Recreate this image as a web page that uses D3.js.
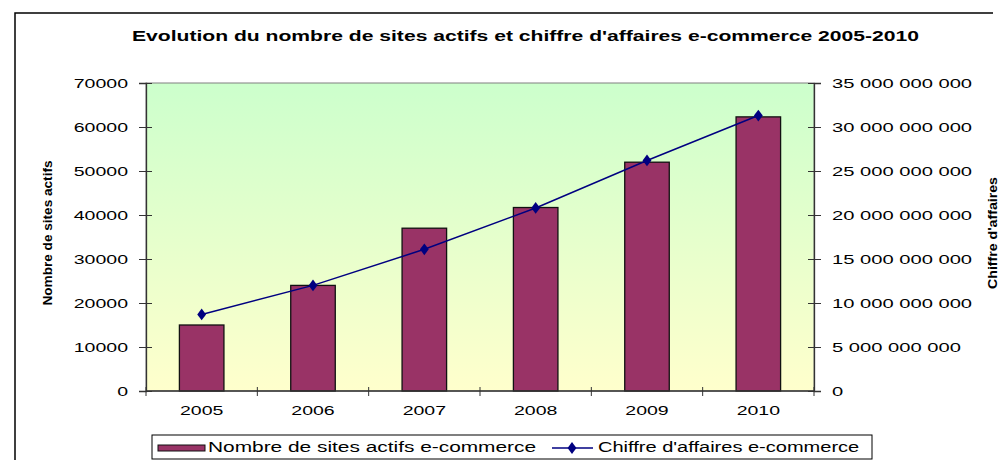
<!DOCTYPE html>
<html>
<head>
<meta charset="utf-8">
<script src="https://cdn.jsdelivr.net/npm/d3@7"></script>
<style>
  body { margin: 0; background: #fff; }
  text { font-family: "Liberation Sans", Arial, sans-serif; }
</style>
</head>
<body>
<div id="chart"></div>
<script>
var years = ['2005', '2006', '2007', '2008', '2009', '2010'];
var sites = [15000, 24000, 37000, 41700, 52000, 62300];
var chiffre = [8700000000, 12000000000, 16100000000, 20800000000, 26200000000, 31300000000];
var sitesTicks = [0, 10000, 20000, 30000, 40000, 50000, 60000, 70000];
var chiffreTicks = [0, 5e9, 10e9, 15e9, 20e9, 25e9, 30e9, 35e9];

var svgWidth = 1008;
var svgHeight = 460;

var plotLeft = 146, plotRight = 814, plotTop = 83, plotBottom = 391;

var svg = d3.select('#chart').append('svg')
    .attr('width', svgWidth)
    .attr('height', svgHeight);

// stretch text horizontally, like the original picture
function stretch(sel, sx) {
    sel.each(function() {
        var w = this.getComputedTextLength();
        d3.select(this).attr('textLength', w * sx).attr('lengthAdjust', 'spacingAndGlyphs');
    });
}

// outer frame (top and left edges only are visible)
svg.append('path')
    .attr('d', 'M15,460 L15,13 L993,13')
    .attr('fill', 'none')
    .attr('stroke', '#000')
    .attr('stroke-width', 1.5);

var grad = svg.append('defs').append('linearGradient')
    .attr('id', 'bg')
    .attr('x1', 0).attr('y1', 0).attr('x2', 0).attr('y2', 1);
grad.append('stop').attr('offset', '0%').attr('stop-color', '#ccffcc');
grad.append('stop').attr('offset', '100%').attr('stop-color', '#ffffcc');

svg.append('rect')
    .attr('x', plotLeft).attr('y', plotTop)
    .attr('width', plotRight - plotLeft).attr('height', plotBottom - plotTop)
    .attr('fill', 'url(#bg)')
    .attr('stroke', '#808080')
    .attr('stroke-width', 1);

var x = d3.scaleBand()
    .domain(years)
    .range([plotLeft, plotRight])
    .paddingInner(0.6)
    .paddingOuter(0.3);

var step = x.step();

var yLeft = d3.scaleLinear().domain([0, 70000]).range([plotBottom, plotTop]);
var yRight = d3.scaleLinear().domain([0, 35e9]).range([plotBottom, plotTop]);

// bars
svg.selectAll('.bar')
    .data(sites)
    .enter()
    .append('rect')
    .attr('class', 'bar')
    .attr('x', (d, i) => x(years[i]))
    .attr('y', d => yLeft(d))
    .attr('width', x.bandwidth())
    .attr('height', d => plotBottom - yLeft(d))
    .attr('fill', '#993366')
    .attr('stroke', '#111')
    .attr('stroke-width', 1.3);

// line
var line = d3.line()
    .x((d, i) => x(years[i]) + x.bandwidth() / 2)
    .y(d => yRight(d));

svg.append('path')
    .datum(chiffre)
    .attr('d', line)
    .attr('fill', 'none')
    .attr('stroke', '#000080')
    .attr('stroke-width', 1.5);

var diamond = d3.symbol().type(d3.symbolDiamond).size(40);

svg.selectAll('.pt')
    .data(chiffre)
    .enter()
    .append('path')
    .attr('class', 'pt')
    .attr('d', diamond)
    .attr('transform', (d, i) => `translate(${x(years[i]) + x.bandwidth() / 2}, ${yRight(d)}) scale(1.3, 1)`)
    .attr('fill', '#000080');

// left axis
var axLeft = svg.append('g')
    .attr('transform', `translate(${plotLeft}, 0)`)
    .call(d3.axisLeft(yLeft).tickValues(sitesTicks).tickSize(7).tickPadding(11).tickFormat(d3.format('d')));
axLeft.select('.domain').attr('stroke', '#333').attr('stroke-width', 1.3);
axLeft.selectAll('.tick line').attr('x2', -7).attr('x1', 6).attr('stroke', '#333');
axLeft.selectAll('text').attr('font-size', 13).attr('fill', '#000')
    .attr('font-family', '"Liberation Sans", Arial, sans-serif')
    .call(stretch, 1.5);

// right axis
var axRight = svg.append('g')
    .attr('transform', `translate(${plotRight}, 0)`)
    .call(d3.axisRight(yRight).tickValues(chiffreTicks).tickSize(7).tickPadding(11)
        .tickFormat(d => d3.format(',')(d).replace(/,/g, ' ')));
axRight.select('.domain').attr('stroke', '#333').attr('stroke-width', 1.3);
axRight.selectAll('.tick line').attr('x1', -6).attr('x2', 7).attr('stroke', '#333');
axRight.selectAll('text').attr('font-size', 13).attr('fill', '#000')
    .attr('font-family', '"Liberation Sans", Arial, sans-serif')
    .call(stretch, 1.55);

// bottom axis
svg.append('line')
    .attr('x1', plotLeft).attr('x2', plotRight)
    .attr('y1', plotBottom).attr('y2', plotBottom)
    .attr('stroke', '#333').attr('stroke-width', 1.3);

svg.selectAll('.xtick')
    .data(d3.range(years.length + 1))
    .enter()
    .append('line')
    .attr('class', 'xtick')
    .attr('x1', i => plotLeft + i * step)
    .attr('x2', i => plotLeft + i * step)
    .attr('y1', plotBottom - 4)
    .attr('y2', plotBottom + 5)
    .attr('stroke', '#333');

svg.selectAll('.xlabel')
    .data(years)
    .enter()
    .append('text')
    .attr('class', 'xlabel')
    .attr('x', d => x(d) + x.bandwidth() / 2)
    .attr('y', 415)
    .attr('text-anchor', 'middle')
    .attr('font-size', 13)
    .text(d => d)
    .call(stretch, 1.5);

// title
svg.append('text')
    .attr('x', 132)
    .attr('y', 41)
    .attr('font-size', 15)
    .attr('font-weight', 'bold')
    .attr('textLength', 787)
    .attr('lengthAdjust', 'spacingAndGlyphs')
    .text("Evolution du nombre de sites actifs et chiffre d'affaires e-commerce 2005-2010");

// axis titles
svg.append('text')
    .attr('transform', 'translate(52, 233) rotate(-90)')
    .attr('text-anchor', 'middle')
    .attr('font-size', 13)
    .attr('font-weight', 'bold')
    .attr('textLength', 145)
    .attr('lengthAdjust', 'spacingAndGlyphs')
    .text('Nombre de sites actifs');

svg.append('text')
    .attr('transform', 'translate(997, 233) rotate(-90)')
    .attr('text-anchor', 'middle')
    .attr('font-size', 13)
    .attr('font-weight', 'bold')
    .attr('textLength', 112)
    .attr('lengthAdjust', 'spacingAndGlyphs')
    .text("Chiffre d'affaires");

// legend
var legend = svg.append('g');

legend.append('rect')
    .attr('x', 152).attr('y', 435)
    .attr('width', 720).attr('height', 24)
    .attr('fill', '#fff')
    .attr('stroke', '#000')
    .attr('stroke-width', 1);

legend.append('rect')
    .attr('x', 158).attr('y', 445)
    .attr('width', 47).attr('height', 6)
    .attr('fill', '#993366')
    .attr('stroke', '#111');

legend.append('text')
    .attr('x', 208).attr('y', 452)
    .attr('font-size', 14)
    .text('Nombre de sites actifs e-commerce')
    .call(stretch, 1.49);

legend.append('line')
    .attr('x1', 552).attr('x2', 593)
    .attr('y1', 448).attr('y2', 448)
    .attr('stroke', '#000080')
    .attr('stroke-width', 1.5);

legend.append('path')
    .attr('d', diamond)
    .attr('transform', 'translate(572, 448) scale(1.3, 1)')
    .attr('fill', '#000080');

legend.append('text')
    .attr('x', 598).attr('y', 452)
    .attr('font-size', 14)
    .text("Chiffre d'affaires e-commerce")
    .call(stretch, 1.43);
</script>
</body>
</html>
